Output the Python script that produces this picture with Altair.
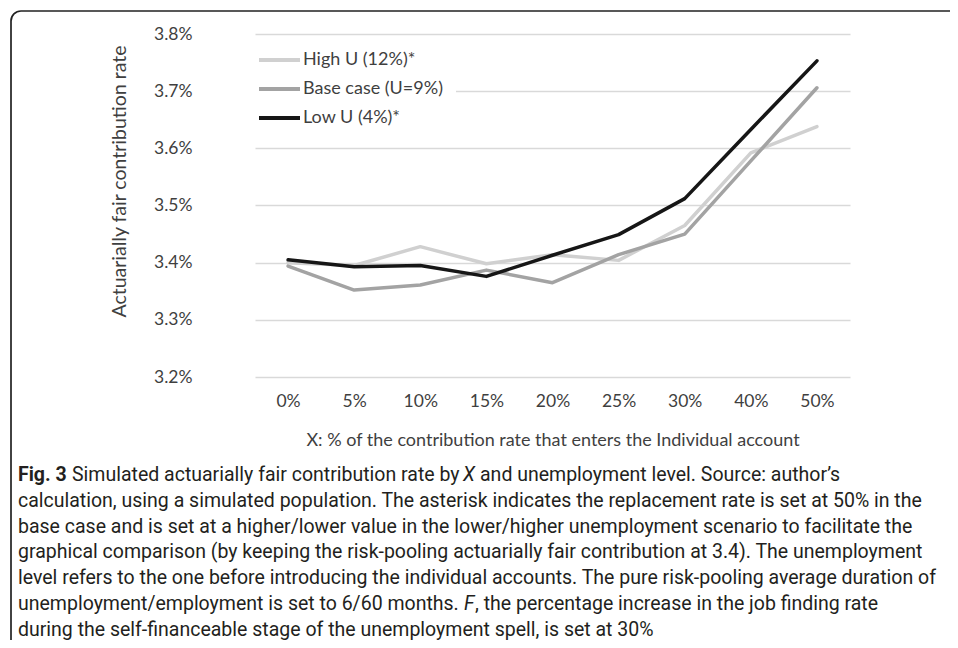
import altair as alt
import pandas as pd

# ---------------- data ----------------
x_labels = ["0%", "5%", "10%", "15%", "20%", "25%", "30%", "40%", "50%"]
series_names = ["High U (12%)*", "Base case (U=9%)", "Low U (4%)*"]
high_u = [3.400, 3.395, 3.428, 3.398, 3.414, 3.404, 3.465, 3.592, 3.638]
base_case = [3.394, 3.352, 3.361, 3.387, 3.365, 3.414, 3.450, 3.578, 3.706]
low_u = [3.405, 3.393, 3.395, 3.376, 3.413, 3.449, 3.512, 3.633, 3.753]
y_ticks = [3.2, 3.3, 3.4, 3.5, 3.6, 3.7, 3.8]
series_colors = ["#d0d0d0", "#a3a3a3", "#161616"]

y_title = "Actuarially fair contribution rate"
x_title = "X: % of the contribution rate that enters the Individual account"

caption_l1 = ["Fig. 3", "Simulated actuarially fair contribution rate by", "X",
              "and unemployment level. Source: author’s"]
caption_mid = [
    "calculation, using a simulated population. The asterisk indicates the replacement rate is set at 50% in the",
    "base case and is set at a higher/lower value in the lower/higher unemployment scenario to facilitate the",
    "graphical comparison (by keeping the risk-pooling actuarially fair contribution at 3.4). The unemployment",
    "level refers to the one before introducing the individual accounts. The pure risk-pooling average duration of",
]
caption_l6 = ["unemployment/employment is set to 6/60 months.", "F",
              ", the percentage increase in the job finding rate"]
caption_l7 = "during the self-financeable stage of the unemployment spell, is set at 30%"

# ---------------- table ----------------
rows = []
for name, vals in zip(series_names, [high_u, base_case, low_u]):
    for lab, v in zip(x_labels, vals):
        rows.append({"x": lab, "rate": v / 100.0, "series": name})
df = pd.DataFrame(rows)

CHART_FONT = "Lato"
CAP_FONT = "Roboto"
TXT = "#3f3f3f"
CAP_COLOR = "#231f20"

W, H = 660, 343

lines = alt.Chart(df).mark_line(strokeWidth=3.5, strokeCap="round", strokeJoin="round").encode(
    x=alt.X("x:N", sort=x_labels,
            scale=alt.Scale(type="point", domain=x_labels, range=[47, 642]),
            axis=alt.Axis(title=x_title, grid=False, domain=False, ticks=False, tickSize=0,
                          labelAngle=0, labelFont=CHART_FONT, labelFontSize=17.5, labelColor=TXT,
                          labelPadding=24, labelBaseline="middle",
                          titleFont=CHART_FONT, titleFontSize=18, titleFontWeight="normal",
                          titleColor=TXT, titleY=63, titleBaseline="middle")),
    y=alt.Y("rate:Q",
            scale=alt.Scale(domain=[0.032, 0.038], nice=False, zero=False),
            axis=alt.Axis(values=[t / 100.0 for t in y_ticks], format=".1%", grid=True,
                          gridColor="#d9d9d9", gridWidth=1.5, domain=False, ticks=False, tickSize=0,
                          labelFont=CHART_FONT, labelFontSize=17.5, labelColor=TXT, labelPadding=16,
                          title=y_title, titleFont=CHART_FONT, titleFontSize=19.5,
                          titleFontWeight="normal", titleColor=TXT, titleAngle=-90,
                          titleX=-83, titleY=147, titleBaseline="alphabetic", titleAlign="center")),
    color=alt.Color("series:N",
                    scale=alt.Scale(domain=series_names, range=series_colors),
                    legend=alt.Legend(title=None, orient="none", legendX=36, legendY=4,
                                      symbolType="stroke", symbolSize=1681, symbolStrokeWidth=4,
                                      clipHeight=18, rowPadding=11, labelOffset=1,
                                      labelFont=CHART_FONT, labelFontSize=18, labelColor=TXT,
                                      fillColor="white", padding=13)),
)

one = pd.DataFrame({"k": [0]})

frame = alt.Chart(one).mark_rect(filled=False, stroke="#222222", strokeWidth=1.7,
                                 cornerRadius=10).encode(
    x=alt.value(-197), x2=alt.value(800), y=alt.value(-23), y2=alt.value(700))


def txt(s, px, py, weight="normal", style="normal", size=19.5):
    return alt.Chart(one).mark_text(align="left", baseline="middle", font=CAP_FONT,
                                    fontSize=size, fontWeight=weight, fontStyle=style,
                                    color=CAP_COLOR).encode(
        x=alt.value(px), y=alt.value(py), text=alt.value(s))


X0 = -190
Y0 = 441
DY = 25.8
cap = [
    txt(caption_l1[0], X0, Y0, weight="bold"),
    txt(caption_l1[1], -136, Y0),
    txt(caption_l1[2], 255, Y0, style="italic"),
    txt(caption_l1[3], 272, Y0),
]
for i, s in enumerate(caption_mid):
    cap.append(txt(s, X0, Y0 + DY * (i + 1)))
cap.append(txt(caption_l6[0], X0, Y0 + DY * 5))
cap.append(txt(caption_l6[1], 256, Y0 + DY * 5, style="italic"))
cap.append(txt(caption_l6[2], 267, Y0 + DY * 5))
cap.append(txt(caption_l7, X0, Y0 + DY * 6))

chart = alt.layer(frame, lines, *cap).properties(
    width=W, height=H,
    padding={"left": 200, "top": 26, "right": 82, "bottom": 263},
    autosize=alt.AutoSizeParams(type="none"),
    background="white",
).configure_view(stroke=None)

chart.save("out.html", embed_options={"renderer": "svg", "actions": False})
